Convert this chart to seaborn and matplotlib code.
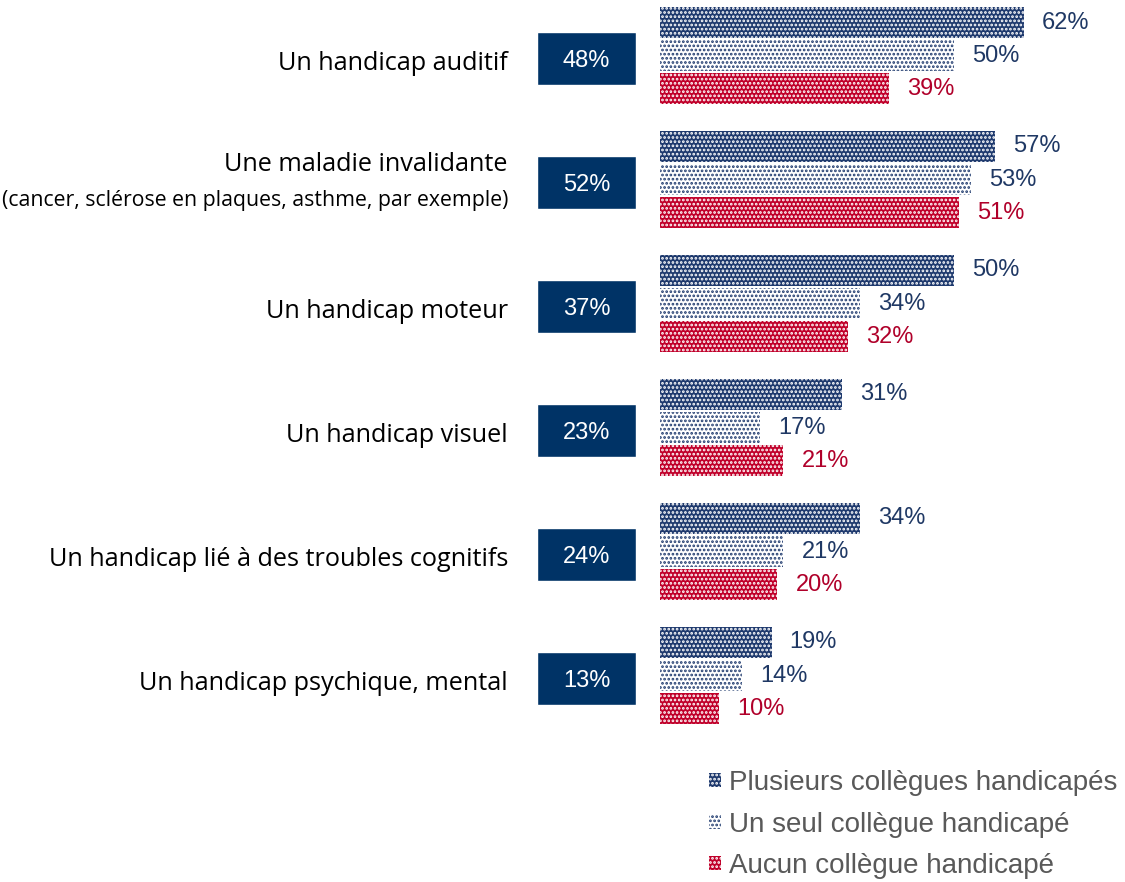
import numpy as np
import pandas as pd
import seaborn as sns
import matplotlib.pyplot as plt
import matplotlib.patches as mpatches
from matplotlib.transforms import blended_transform_factory

# data
categories = ['Un handicap auditif', 'Une maladie invalidante', 'Un handicap moteur',
              'Un handicap visuel', 'Un handicap lié à des troubles cognitifs',
              'Un handicap psychique, mental']
subtitles = ['', '(cancer, sclérose en plaques, asthme, par exemple)', '', '', '', '']
totals = [48, 52, 37, 23, 24, 13]
series = ['Plusieurs collègues handicapés', 'Un seul collègue handicapé', 'Aucun collègue handicapé']
plusieurs = [62, 57, 50, 31, 34, 19]
un_seul = [50, 53, 34, 17, 21, 14]
aucun = [39, 51, 32, 21, 20, 10]

navy = '#1f3a6e'
box_navy = '#003366'
red = '#c0002a'
face = {series[0]: navy, series[1]: 'white', series[2]: red}
hatch_col = {series[0]: 'white', series[1]: navy, series[2]: 'white'}
hatches = {series[0]: '....', series[1]: '....', series[2]: '....'}
text_col = {series[0]: '#1f3864', series[1]: '#1f3864', series[2]: '#b0002a'}

df = pd.DataFrame({
    'cat': categories * 3,
    'serie': np.repeat(series, len(categories)),
    'val': plusieurs + un_seul + aucun,
})

sns.set_style('white')
plt.rcParams['font.family'] = ['Liberation Sans', 'DejaVu Sans']
plt.rcParams['hatch.linewidth'] = 1.3

W, H = 1125, 882
fig = plt.figure(figsize=(W / 100, H / 100), dpi=100)

# bar axes: x from 660 px to right edge
ax = fig.add_axes([660 / W, 1 - 735 / H, (W - 660) / W, 735 / H])
sns.barplot(data=df, y='cat', x='val', hue='serie', order=categories, hue_order=series,
            orient='h', width=0.8, ax=ax, legend=False)
ax.set_xlim(0, (W - 660) / 5.87)
ax.set_ylim(5.484, -0.444)
ax.axis('off')

for cont, s in zip(ax.containers, series):
    for p, v in zip(cont.patches, cont.datavalues):
        p.set_facecolor(face[s])
        p.set_edgecolor(hatch_col[s])
        p.set_linewidth(0)
        p.set_hatch(hatches[s])
        p.set_y(p.get_y() + 0.01)
        p.set_height(0.255)
        yc = p.get_y() + p.get_height() / 2
        ax.text(v + 3.1, yc, f'{v:.0f}%', va='center', ha='left',
                fontsize=17, color=text_col[s])

# total boxes
ax2 = fig.add_axes([537 / W, 1 - 735 / H, 99 / W, 735 / H])
ax2.barh(np.arange(len(categories)) + 0.03, [1] * len(categories), height=0.43, left=0,
         color=box_navy, align='center')
ax2.set_xlim(0, 1)
ax2.set_ylim(5.484, -0.444)
ax2.axis('off')
for i, t in enumerate(totals):
    ax2.text(0.5, i + 0.05, f'{t}%', color='white', ha='center', va='center', fontsize=17)

# category labels
tr = blended_transform_factory(fig.transFigure, ax.transData)
for i, (c, sub) in enumerate(zip(categories, subtitles)):
    if sub:
        fig.text(508 / W, i - 0.12, c, transform=tr, ha='right', va='center',
                 fontsize=18.2, family='Open Sans', color='black')
        fig.text(508 / W, i + 0.17, sub, transform=tr, ha='right', va='center',
                 fontsize=15.3, family='Open Sans', color='black')
    else:
        fig.text(508 / W, i + 0.07, c, transform=tr, ha='right', va='center',
                 fontsize=18.2, family='Open Sans', color='black')

# legend
leg_handles = [mpatches.Patch(facecolor=face[s], edgecolor=hatch_col[s], linewidth=0,
                              hatch=hatches[s]) for s in series]
leg = fig.legend(leg_handles, series, loc='upper left', bbox_to_anchor=(709 / W, 1 - 770 / H),
                 frameon=False, fontsize=20, handlelength=0.42, handleheight=0.42,
                 handletextpad=0.3, labelspacing=0.56, borderpad=0, borderaxespad=0)
for t in leg.get_texts():
    t.set_color('#595959')

fig.savefig('out.png', dpi=100, facecolor='white')
